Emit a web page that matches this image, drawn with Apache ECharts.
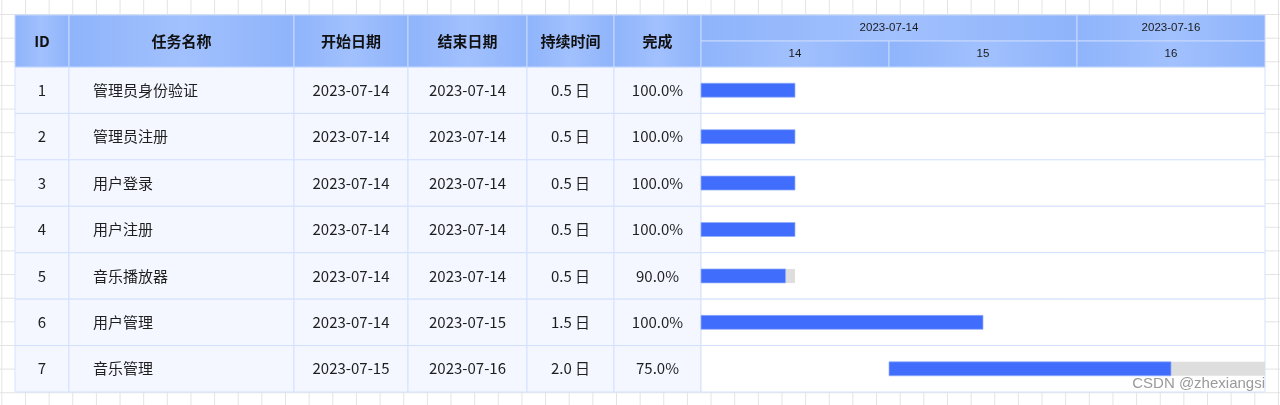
<!DOCTYPE html>
<html>
<head>
<meta charset="utf-8">
<script src="https://cdn.jsdelivr.net/npm/echarts@6/dist/echarts.min.js"></script>
<style>
html,body{margin:0;padding:0;}
body{width:1280px;height:405px;background-color:#fff;
background-image:linear-gradient(to bottom,#e3e3e3 1px,transparent 1px),linear-gradient(to right,#e3e3e3 1px,transparent 1px);
background-size:23.65px 23.65px;background-position:1.35px 14px;overflow:hidden;}
#chart{width:1280px;height:405px;}
</style>
</head>
<body>
<div id="chart"></div>
<script>
// ---------- data ----------
const columnHeaders = ['ID', '任务名称', '开始日期', '结束日期', '持续时间', '完成'];
const ids = ['1', '2', '3', '4', '5', '6', '7'];
const taskNames = ['管理员身份验证', '管理员注册', '用户登录', '用户注册', '音乐播放器', '用户管理', '音乐管理'];
const startDates = ['2023-07-14', '2023-07-14', '2023-07-14', '2023-07-14', '2023-07-14', '2023-07-14', '2023-07-15'];
const endDates = ['2023-07-14', '2023-07-14', '2023-07-14', '2023-07-14', '2023-07-14', '2023-07-15', '2023-07-16'];
const durations = [0.5, 0.5, 0.5, 0.5, 0.5, 1.5, 2.0];
const progress = [100, 100, 100, 100, 90, 100, 75];
const taskStarts = ['2023-07-14 00:00', '2023-07-14 00:00', '2023-07-14 00:00', '2023-07-14 00:00', '2023-07-14 00:00', '2023-07-14 00:00', '2023-07-15 00:00'];
const taskEnds = ['2023-07-14 12:00', '2023-07-14 12:00', '2023-07-14 12:00', '2023-07-14 12:00', '2023-07-14 12:00', '2023-07-15 12:00', '2023-07-17 00:00'];
const timelineStart = '2023-07-14 00:00';
const timelineEnd = '2023-07-17 00:00';
const dayLabels = ['14', '15', '16'];
const dayStarts = ['2023-07-14 00:00', '2023-07-15 00:00', '2023-07-16 00:00'];
const dayEnds = ['2023-07-15 00:00', '2023-07-16 00:00', '2023-07-17 00:00'];
const groupLabels = ['2023-07-14', '2023-07-16'];
const groupStarts = ['2023-07-14 00:00', '2023-07-16 00:00'];
const groupEnds = ['2023-07-16 00:00', '2023-07-17 00:00'];

// ---------- layout (not data) ----------
const colEdges = [0, 54, 279, 393, 512, 599, 686];
const CJK = '"Noto Sans CJK SC", "Noto Sans", sans-serif';
const LAT = '"Liberation Sans", Arial, sans-serif';
const BORDER = '#d4e1fc';

function t(s) {
  const parts = s.split(' ');
  const d = parts[0].split('-').map(Number);
  let h = 0, mi = 0;
  if (parts[1]) { const hm = parts[1].split(':').map(Number); h = hm[0]; mi = hm[1]; }
  return new Date(d[0], d[1] - 1, d[2], h, mi).getTime();
}
const tMin = t(timelineStart), tMax = t(timelineEnd);

const tableColumns = [
  ids, taskNames, startDates, endDates,
  durations.map(d => d.toFixed(1) + ' 日'),
  progress.map(p => p.toFixed(1) + '%')
];

function headerFill() {
  return new echarts.graphic.LinearGradient(0, 0, 1, 0, [
    { offset: 0, color: '#8fb4fb' },
    { offset: 0.5, color: '#a1c0fd' },
    { offset: 1, color: '#8fb4fb' }
  ]);
}

const bodyCells = [];
ids.forEach((_, r) => columnHeaders.forEach((__, c) => bodyCells.push([c, r])));
const headerCells = columnHeaders.map((_, c) => [c, 0]);
const ganttRows = ids.map((_, r) => [tMin, r, tMax]);
const ganttBars = ids.map((_, r) => [t(taskStarts[r]), r, t(taskEnds[r]), progress[r]]);
const ganttHeader = [];
groupLabels.forEach((g, i) => ganttHeader.push([t(groupStarts[i]), 0, t(groupEnds[i]), g]));
dayLabels.forEach((d, i) => ganttHeader.push([t(dayStarts[i]), 1, t(dayEnds[i]), d]));

const chart = echarts.init(document.getElementById('chart'), null, { renderer: 'canvas' });
const tableX = { type: 'value', min: 0, max: colEdges[colEdges.length - 1], show: false };

chart.setOption({
  animation: false,
  grid: [
    { left: 15, top: 67, width: 686, height: 325 },
    { left: 15, top: 15, width: 686, height: 52 },
    { left: 701, top: 67, width: 564, height: 325 },
    { left: 701, top: 15, width: 564, height: 52 }
  ],
  xAxis: [
    Object.assign({ gridIndex: 0 }, tableX),
    Object.assign({ gridIndex: 1 }, tableX),
    { gridIndex: 2, type: 'time', min: tMin, max: tMax, show: false },
    { gridIndex: 3, type: 'time', min: tMin, max: tMax, show: false }
  ],
  yAxis: [
    { gridIndex: 0, type: 'category', data: ids, inverse: true, show: false },
    { gridIndex: 1, type: 'category', data: ['header'], show: false },
    { gridIndex: 2, type: 'category', data: ids, inverse: true, show: false },
    { gridIndex: 3, type: 'category', data: ['group', 'day'], inverse: true, show: false }
  ],
  graphic: [{
    type: 'text', right: 15, top: 376, z: 100,
    style: { text: 'CSDN @zhexiangsi', fill: '#9a9a9a', font: '15px ' + LAT }
  }],
  series: [
    {
      name: 'tableBody', type: 'custom', xAxisIndex: 0, yAxisIndex: 0,
      data: bodyCells, encode: { x: 0, y: 1 }, silent: true,
      renderItem: function (params, api) {
        const c = api.value(0), r = api.value(1);
        const x0 = api.coord([colEdges[c], r])[0];
        const x1 = api.coord([colEdges[c + 1], r])[0];
        const yc = api.coord([0, r])[1];
        const h = api.size([0, 1])[1];
        const leftAlign = c === 1;
        return {
          type: 'group', children: [
            { type: 'rect', shape: { x: x0, y: yc - h / 2, width: x1 - x0, height: h },
              style: { fill: '#f4f7ff', stroke: BORDER, lineWidth: 1 } },
            { type: 'text', style: {
                text: String(tableColumns[c][r]),
                x: leftAlign ? x0 + 24 : (x0 + x1) / 2, y: yc,
                align: leftAlign ? 'left' : 'center', verticalAlign: 'middle',
                fontSize: 15, fontFamily: CJK, fill: '#1e1e1e' } }
          ]
        };
      }
    },
    {
      name: 'tableHeader', type: 'custom', xAxisIndex: 1, yAxisIndex: 1,
      data: headerCells, encode: { x: 0, y: 1 }, silent: true,
      renderItem: function (params, api) {
        const c = api.value(0);
        const x0 = api.coord([colEdges[c], 0])[0];
        const x1 = api.coord([colEdges[c + 1], 0])[0];
        const yc = api.coord([0, 0])[1];
        const h = api.size([0, 1])[1];
        return {
          type: 'group', children: [
            { type: 'rect', shape: { x: x0, y: yc - h / 2, width: x1 - x0, height: h },
              style: { fill: headerFill(), stroke: '#c6d9fd', lineWidth: 1 } },
            { type: 'text', style: {
                text: columnHeaders[c], x: (x0 + x1) / 2, y: yc,
                align: 'center', verticalAlign: 'middle',
                fontSize: 15, fontWeight: 'bold', fontFamily: CJK, fill: '#111' } }
          ]
        };
      }
    },
    {
      name: 'ganttRows', type: 'custom', xAxisIndex: 2, yAxisIndex: 2,
      data: ganttRows, encode: { x: [0, 2], y: 1 }, silent: true,
      renderItem: function (params, api) {
        const r = api.value(1);
        const p0 = api.coord([api.value(0), r]);
        const p1 = api.coord([api.value(2), r]);
        const h = api.size([0, 1])[1];
        return { type: 'rect', shape: { x: p0[0], y: p0[1] - h / 2, width: p1[0] - p0[0], height: h },
          style: { fill: '#ffffff', stroke: BORDER, lineWidth: 1 } };
      }
    },
    {
      name: 'ganttBars', type: 'custom', xAxisIndex: 2, yAxisIndex: 2,
      data: ganttBars, encode: { x: [0, 2], y: 1 }, z: 5,
      renderItem: function (params, api) {
        const s = api.value(0), r = api.value(1), e = api.value(2), pr = api.value(3);
        const p0 = api.coord([s, r]);
        const p1 = api.coord([e, r]);
        const pm = api.coord([s + (e - s) * pr / 100, r]);
        const bh = 14;
        return {
          type: 'group', children: [
            { type: 'rect', shape: { x: p0[0], y: p0[1] - bh / 2, width: p1[0] - p0[0], height: bh },
              style: { fill: '#dedede' } },
            { type: 'rect', shape: { x: p0[0], y: p0[1] - bh / 2, width: pm[0] - p0[0], height: bh },
              style: { fill: '#416dfd', stroke: 'rgba(150,178,255,0.7)', lineWidth: 1 } }
          ]
        };
      }
    },
    {
      name: 'ganttHeader', type: 'custom', xAxisIndex: 3, yAxisIndex: 3,
      data: ganttHeader, encode: { x: [0, 2], y: 1 }, silent: true,
      renderItem: function (params, api) {
        const s = api.value(0), lv = api.value(1), e = api.value(2);
        const p0 = api.coord([s, lv]);
        const p1 = api.coord([e, lv]);
        const h = api.size([0, 1])[1];
        return {
          type: 'group', children: [
            { type: 'rect', shape: { x: p0[0], y: p0[1] - h / 2, width: p1[0] - p0[0], height: h },
              style: { fill: headerFill(), stroke: '#c6d9fd', lineWidth: 1 } },
            { type: 'text', style: {
                text: ganttHeader[params.dataIndex][3], x: (p0[0] + p1[0]) / 2, y: p0[1],
                align: 'center', verticalAlign: 'middle',
                fontSize: 11.5, fontFamily: LAT, fill: '#1a1a1a' } }
          ]
        };
      }
    }
  ]
});
</script>
</body>
</html>
